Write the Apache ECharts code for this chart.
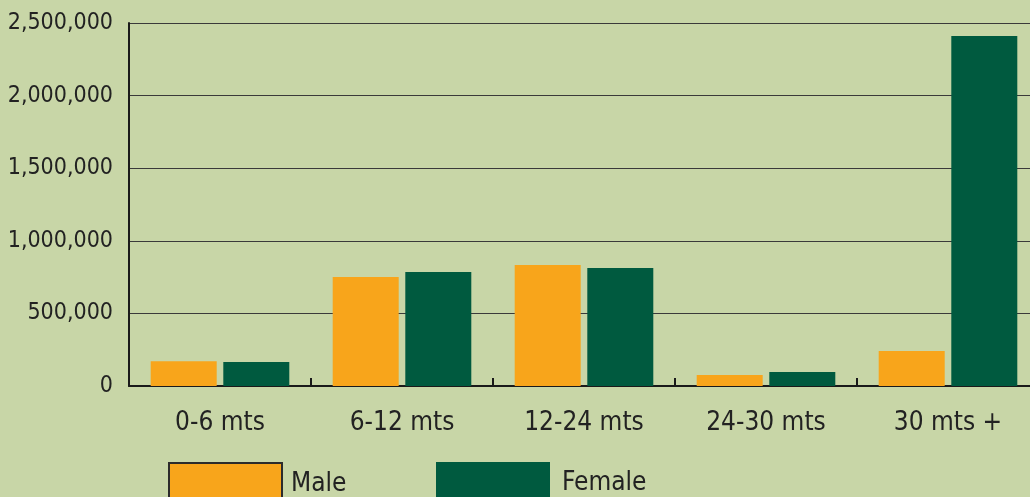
<!DOCTYPE html>
<html>
<head>
<meta charset="utf-8">
<script src="https://cdn.jsdelivr.net/npm/echarts@6/dist/echarts.min.js"></script>
<style>
html,body{margin:0;padding:0;background:#c8d6a7;}
#c{width:1030px;height:497px;}
</style>
</head>
<body>
<div id="c"></div>
<script>
const categories = ['0-6 mts', '6-12 mts', '12-24 mts', '24-30 mts', '30 mts +'];
const maleValues = [170000, 750000, 833000, 76000, 241000];
const femaleValues = [165000, 785000, 813000, 96000, 2410000];
const yTicks = [0, 500000, 1000000, 1500000, 2000000, 2500000];

const FONT = "'Liberation Sans Narrow', 'DejaVu Sans Condensed', 'Arial Narrow', sans-serif";
function fmt(v) {
  return String(v).replace(/\B(?=(\d{3})+(?!\d))/g, ',');
}

const chart = echarts.init(document.getElementById('c'), null, {renderer: 'canvas'});
chart.setOption({
  backgroundColor: '#c8d6a7',
  animation: false,
  textStyle: {fontFamily: FONT},
  grid: {left: 129, top: 23, right: -9, bottom: 111, containLabel: false, outerBoundsMode: 'none'},
  legend: [
    {
      data: [{name: 'Male', itemStyle: {borderColor: '#2b2b2b', borderWidth: 2}}],
      left: 168, top: 462, padding: 0, itemWidth: 113, itemHeight: 42, itemGap: 0,
      icon: 'rect', selectedMode: false,
      textStyle: {fontFamily: FONT, fontSize: 26, color: '#222', padding: [0, 0, 0, 4]}
    },
    {
      data: ['Female'],
      left: 436, top: 462, padding: 0, itemWidth: 114, itemHeight: 42, itemGap: 0,
      icon: 'rect', selectedMode: false,
      textStyle: {fontFamily: FONT, fontSize: 26, color: '#222', padding: [0, 0, 0, 7]}
    }
  ],
  xAxis: {
    type: 'category',
    data: categories,
    axisLine: {show: true, lineStyle: {color: '#1a1a1a', width: 2}},
    axisTick: {show: true, inside: true, length: 8, alignWithLabel: false, lineStyle: {color: '#1a1a1a', width: 2}},
    axisLabel: {fontFamily: FONT, fontSize: 26, color: '#222', margin: 24},
    splitLine: {show: false}
  },
  yAxis: {
    type: 'value',
    min: 0, max: 2500000, interval: 500000,
    axisLine: {show: true, lineStyle: {color: '#1a1a1a', width: 2}},
    axisTick: {show: false},
    axisLabel: {
      fontFamily: FONT, fontSize: 23, color: '#222', margin: 16,
      padding: [11, 0, 0, 0],
      formatter: function (v) { return yTicks.indexOf(v) >= 0 ? fmt(v) : ''; }
    },
    splitLine: {show: true, lineStyle: {color: '#3a3a3a', width: 1}}
  },
  series: [
    {
      name: 'Male', type: 'bar', data: maleValues,
      barWidth: 66, barGap: '10%',
      itemStyle: {color: '#f8a51b'}
    },
    {
      name: 'Female', type: 'bar', data: femaleValues,
      barWidth: 66, barGap: '10%',
      itemStyle: {color: '#005a3f'}
    }
  ]
});
</script>
</body>
</html>
